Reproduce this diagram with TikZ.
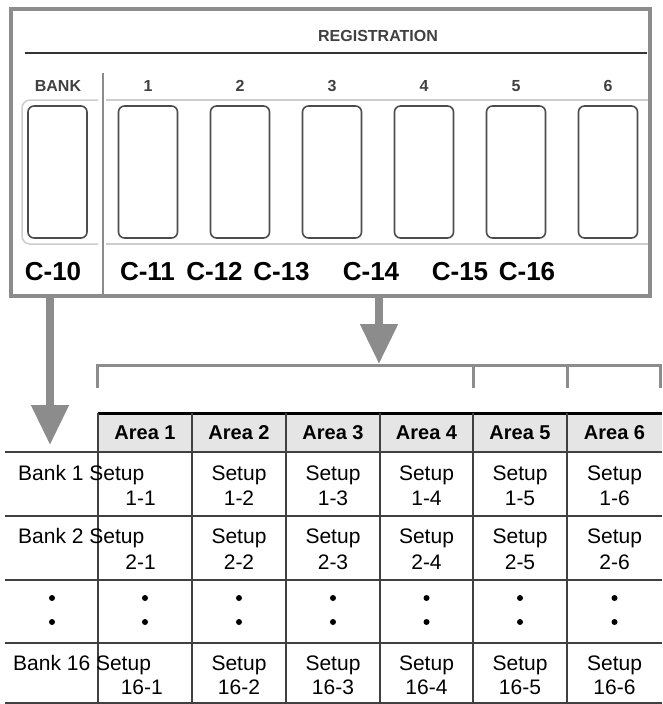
\documentclass[tikz,border=0pt]{standalone}
\usepackage{fontspec}
\setmainfont{Liberation Sans}
\usetikzlibrary{arrows.meta}
\definecolor{panelgray}{gray}{0.55}
\definecolor{lightline}{gray}{0.8}
\definecolor{headgray}{gray}{0.9}
\tikzset{
  btn/.style={draw=black!70,line width=1.6pt,rounded corners=6pt,minimum width=59pt,minimum height=132pt,inner sep=0pt},
  caplabel/.style={font=\fontsize{16}{18}\selectfont\bfseries,text=black!75,inner sep=0pt,anchor=base},
  clabel/.style={font=\fontsize{26}{28}\selectfont\bfseries,inner sep=0pt,anchor=base},
  head/.style={font=\fontsize{20}{22}\selectfont\bfseries,inner sep=0pt,anchor=base},
  cell/.style={font=\fontsize{21}{23}\selectfont,inner sep=0pt,anchor=base},
  dot/.style={circle,fill,inner sep=0pt,minimum size=6pt},
  rule/.style={draw=black!75,line width=1.5pt},
  bigarrow/.style={draw=panelgray,fill=panelgray,line width=8pt,-{Triangle[width=36pt,length=40pt]}}
}
\begin{document}
\begin{tikzpicture}[x=1pt,y=-1pt]
  \useasboundingbox (0,0) rectangle (662,704);
  % the registration panel
  \draw[panelgray,line width=3.5pt] (11,9) rectangle (650,296);
  \node[caplabel] (reg) at (378,41) {REGISTRATION};
  \draw[black!80,line width=2pt] (25,53) -- (647,53);
  \draw[panelgray,line width=2pt] (103,73) -- (103,296);
  \draw[lightline,line width=1.5pt,rounded corners=8pt] (98,100) -- (22,100) -- (22,244) -- (98,244);
  \draw[lightline,line width=1.5pt] (106,100) -- (648,100) (106,244) -- (648,244);
  \node[caplabel] (bank) at (58,91) {BANK};
  \node[btn] (btnbank) at (57.5,172) {};
  \foreach \i in {1,...,6}{%
    \node[caplabel] (num\i) at (56+92*\i,91) {\i};
    \node[btn] (btn\i) at (56+92*\i,172) {};
  }
  \foreach \n/\x in {10/53,11/147.5,12/214.5,13/281.5,14/371,15/460,16/527}
    \node[clabel] (c\n) at (\x,280.5) {C-\n};
  % arrows down to the table
  \coordinate (bankout) at (50,296);
  \coordinate (bankin) at (50,445);
  \draw[bigarrow] (bankout) -- (bankin);
  \coordinate (regout) at (379,296);
  \coordinate (regin) at (379,364);
  \draw[bigarrow] (regout) -- (regin);
  \draw[panelgray,line width=3pt] (97,388) -- (97,365) -- (660,365) -- (660,388);
  \draw[panelgray,line width=3pt] (473,365) -- (473,388) (567,365) -- (567,388);
  % the table
  \fill[headgray] (98,413) rectangle (662,452);
  \draw[black,line width=3pt] (98,413) -- (662,413);
  \foreach \y in {452,516,580,643,703}
    \draw[rule] (5,\y) -- (662,\y);
  \foreach \x in {98,192,286,380,473,567}
    \draw[rule] (\x,413) -- (\x,704);
  \node[dot] (dbank1) at (52,598) {};
  \node[dot] (dbank2) at (52,622) {};
  \node[cell,anchor=base west] (s1a) at (18,480.5) {Bank 1 Setup};
  \node[cell,anchor=base east] (n1a) at (156,505.5) {1-1};
  \node[cell,anchor=base west] (s2a) at (18,543.5) {Bank 2 Setup};
  \node[cell,anchor=base east] (n2a) at (156,569.5) {2-1};
  \node[cell,anchor=base west] (s16a) at (13,670.5) {Bank 16 Setup};
  \node[cell,anchor=base east] (n16a) at (163,694.5) {16-1};
  \foreach \c/\x in {1/145,2/239,3/333,4/426.5,5/520,6/614.5}{%
    \node[head] (area\c) at (\x,439) {Area \c};
    \node[dot] (dtop\c) at (\x,598) {};
    \node[dot] (dbot\c) at (\x,622) {};
  }
  \foreach \c/\x in {2/239,3/333,4/426.5,5/520,6/614.5}{%
    \node[cell] (s1\c) at (\x,480.5) {Setup};
    \node[cell] (n1\c) at (\x,505.5) {1-\c};
    \node[cell] (s2\c) at (\x,543.5) {Setup};
    \node[cell] (n2\c) at (\x,569.5) {2-\c};
    \node[cell] (s16\c) at (\x,670.5) {Setup};
    \node[cell] (n16\c) at (\x,694.5) {16-\c};
  }
\end{tikzpicture}
\end{document}
